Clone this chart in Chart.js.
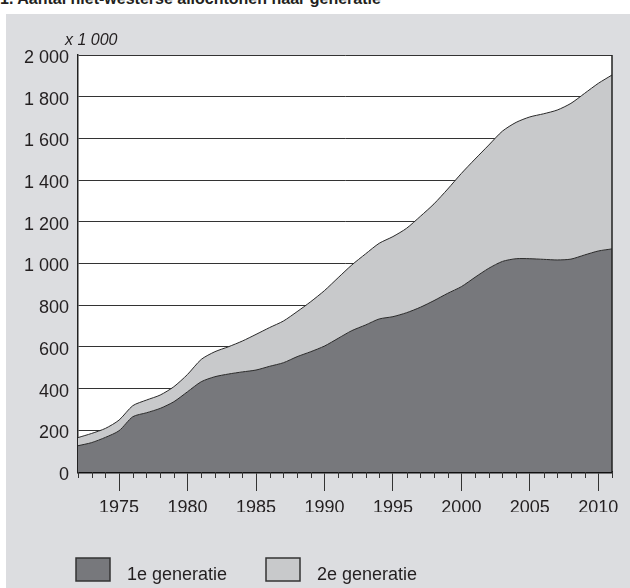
<!DOCTYPE html>
<html>
<head>
<meta charset="utf-8">
<script src="https://cdn.jsdelivr.net/npm/chart.js@4"></script>
<style>
    html, body { margin: 0; padding: 0; background: #fff; overflow: hidden; }
    body { width: 630px; height: 588px; position: relative; font-family: "Liberation Sans", Arial, sans-serif; }
    #title { position: absolute; left: 0; top: -9px; font-size: 16px; font-weight: bold; line-height: 16px; color: #231f20; white-space: nowrap; }
    #panel { position: absolute; left: 6px; top: 14px; width: 624px; height: 574px; background: #dcdde0; }
</style>
</head>
<body>
<div id="title">1. Aantal niet-westerse allochtonen naar generatie</div>
<div id="panel">
    <canvas id="generatieCanvas"></canvas>
</div>
<script>
// years 1972 - 2011
const years = [
    1972, 1973, 1974, 1975, 1976, 1977, 1978, 1979, 1980, 1981,
    1982, 1983, 1984, 1985, 1986, 1987, 1988, 1989, 1990, 1991,
    1992, 1993, 1994, 1995, 1996, 1997, 1998, 1999, 2000, 2001,
    2002, 2003, 2004, 2005, 2006, 2007, 2008, 2009, 2010, 2011
];

// x 1 000
const eersteGeneratie = [
    126, 141, 166, 198, 265, 284, 305, 337, 385, 433,
    457, 470, 480, 489, 507, 524, 553, 577, 604, 641,
    678, 705, 734, 745, 764, 790, 822, 857, 889, 934,
    977, 1010, 1023, 1023, 1020, 1017, 1021, 1041, 1060, 1070
];

const tweedeGeneratie = [
    39, 44, 43, 51, 53, 61, 64, 72, 83, 107,
    120, 131, 148, 171, 186, 200, 216, 240, 266, 291,
    315, 341, 363, 384, 405, 436, 464, 500, 543, 567,
    591, 625, 654, 680, 698, 719, 747, 775, 804, 834
];

const seriesLabels = ["1e generatie", "2e generatie"];
const yTicks = { min: 0, max: 2000, step: 200 };

const fillColors = ["#77787c", "#c8c9cb"];
const lineColor = "#2a2a2a";
const textColor = "#231f20";
const fontFamily = '"Liberation Sans", Arial, sans-serif';

Chart.defaults.font.family = fontFamily;
Chart.defaults.font.size = 18;
Chart.defaults.color = textColor;

function toPoints(values) {
    return years.map((year, i) => ({ x: year, y: values[i] }));
}

function formatThousands(v) {
    if (v < 1000) return String(v);
    return Math.floor(v / 1000) + " " + String(v % 1000).padStart(3, "0");
}

// white plot area, right border, minor year ticks, unit label
const plotDecor = {
    id: "plotDecor",
    beforeDraw(chart) {
        const a = chart.chartArea;
        const ctx = chart.ctx;
        ctx.save();
        ctx.fillStyle = "#ffffff";
        ctx.fillRect(a.left, a.top, a.right - a.left, a.bottom - a.top);
        ctx.restore();
    },
    afterDraw(chart) {
        const a = chart.chartArea;
        const ctx = chart.ctx;
        const xScale = chart.scales.x;
        ctx.save();
        ctx.strokeStyle = "#222";
        ctx.lineWidth = 1.5;
        ctx.beginPath();
        ctx.moveTo(a.right, a.top);
        ctx.lineTo(a.right, a.bottom);
        ctx.stroke();

        ctx.lineWidth = 1;
        ctx.strokeStyle = "#333";
        ctx.beginPath();
        years.forEach(year => {
            if (year % 5 === 0) return;
            const px = Math.round(xScale.getPixelForValue(year)) + 0.5;
            ctx.moveTo(px, a.bottom);
            ctx.lineTo(px, a.bottom + 6);
        });
        ctx.stroke();

        ctx.fillStyle = textColor;
        ctx.font = "italic 16px " + fontFamily;
        ctx.textAlign = "left";
        ctx.textBaseline = "alphabetic";
        ctx.fillText("x 1 000", a.left - 13, a.top - 10);
        ctx.restore();
    }
};

// legend below the axis, boxes with a dark outline
const boxLegend = {
    id: "boxLegend",
    afterDraw(chart) {
        const ctx = chart.ctx;
        const top = chart.height - 30;
        const starts = [chart.chartArea.left - 2, chart.chartArea.left + 188];
        ctx.save();
        ctx.font = "18px " + fontFamily;
        ctx.textAlign = "left";
        ctx.textBaseline = "alphabetic";
        seriesLabels.forEach((label, i) => {
            const x = starts[i];
            ctx.fillStyle = fillColors[i];
            ctx.fillRect(x, top, 34, 23);
            ctx.strokeStyle = "#333";
            ctx.lineWidth = 1.5;
            ctx.strokeRect(x, top, 34, 23);
            ctx.fillStyle = textColor;
            ctx.fillText(label, x + 51, top + 22);
        });
        ctx.restore();
    }
};

function createGeneratieChart() {
    const data = {
        datasets: [
            {
                label: seriesLabels[0],
                data: toPoints(eersteGeneratie),
                backgroundColor: fillColors[0],
                borderColor: lineColor,
                borderWidth: 1,
                fill: "origin"
            },
            {
                label: seriesLabels[1],
                data: toPoints(tweedeGeneratie),
                backgroundColor: fillColors[1],
                borderColor: lineColor,
                borderWidth: 1,
                fill: "-1"
            }
        ]
    };

    return new Chart(document.querySelector("#generatieCanvas"), {
        type: "line",
        data: data,
        plugins: [plotDecor, boxLegend],
        options: {
            responsive: true,
            maintainAspectRatio: false,
            animation: false,
            layout: {
                padding: { left: 0, right: 18, top: 41, bottom: 76 }
            },
            elements: {
                point: { radius: 0 },
                line: { tension: 0.25 }
            },
            plugins: {
                tooltip: { enabled: false },
                legend: { display: false }
            },
            scales: {
                x: {
                    type: "linear",
                    min: years[0],
                    max: years[years.length - 1],
                    afterFit(scale) { scale.height = 40; },
                    grid: {
                        drawOnChartArea: false,
                        drawTicks: true,
                        tickLength: 19,
                        tickWidth: 1,
                        tickColor: ctx => (ctx.tick && ctx.tick.value % 5 === 0) ? "#333" : "rgba(0,0,0,0)"
                    },
                    border: { display: true, color: "#111", width: 2.5 },
                    ticks: {
                        stepSize: 1,
                        autoSkip: false,
                        maxRotation: 0,
                        padding: 6,
                        callback: v => (v % 5 === 0 ? String(v) : "")
                    }
                },
                y: {
                    stacked: true,
                    min: yTicks.min,
                    max: yTicks.max,
                    afterFit(scale) { scale.width = 72; },
                    grid: {
                        color: "#333",
                        lineWidth: 1,
                        drawTicks: false
                    },
                    border: { display: true, color: "#222", width: 1.5 },
                    ticks: {
                        stepSize: yTicks.step,
                        padding: 9,
                        labelOffset: 3,
                        callback: v => formatThousands(v)
                    }
                }
            }
        }
    });
}

createGeneratieChart();
</script>
</body>
</html>
